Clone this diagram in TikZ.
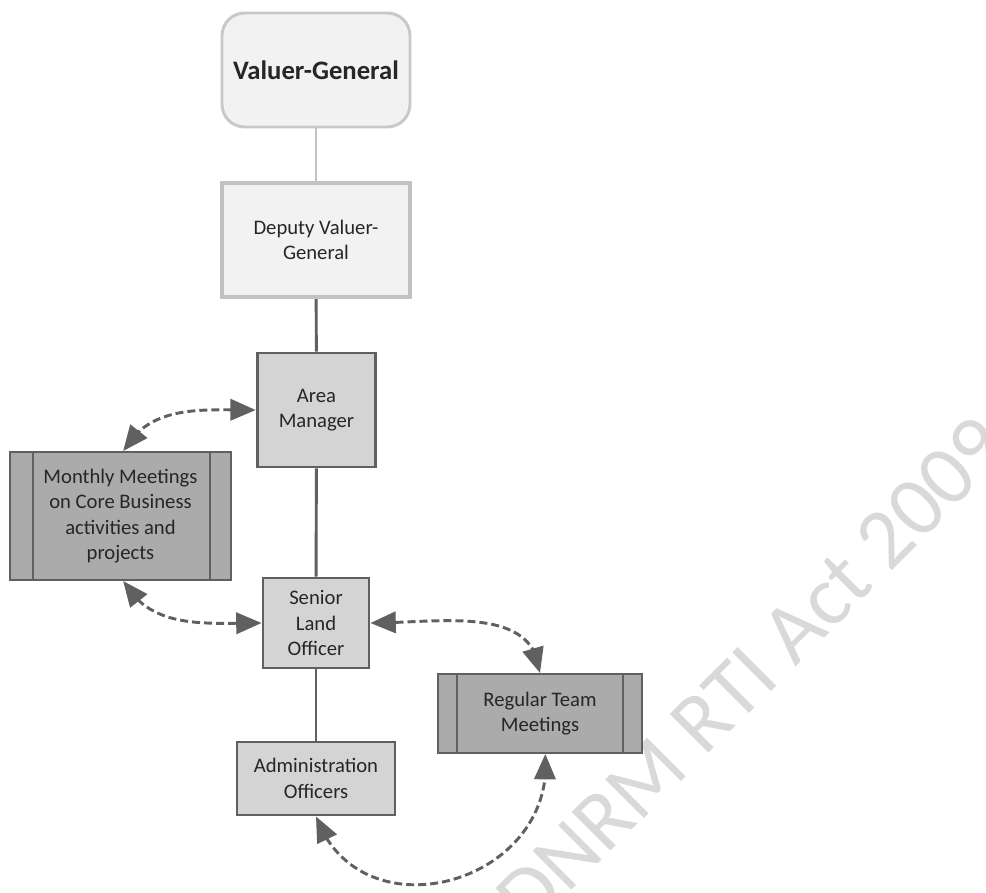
\documentclass[tikz,border=0pt]{standalone}
\usepackage{fontspec}
\setmainfont{Carlito}
\usetikzlibrary{arrows.meta,bending}
\definecolor{boxline}{HTML}{606060}
\definecolor{paleline}{HTML}{C2C2C2}
\definecolor{palefill}{HTML}{F2F2F2}
\definecolor{midfill}{HTML}{D4D4D4}
\definecolor{darkfill}{HTML}{ABABAB}
\definecolor{wmark}{HTML}{D9D9D9}
\definecolor{inktext}{HTML}{262626}
\tikzset{>={Triangle[length=19pt,width=16pt]},
  orgbox/.style={draw, align=center, inner sep=0pt, text=inktext,
    font=\fontsize{15.5}{19}\selectfont},
  palebox/.style={orgbox, fill=palefill, draw=paleline, line width=3pt},
  rolebox/.style={orgbox, fill=midfill, draw=boxline, line width=2.2pt},
  meetbox/.style={orgbox, fill=darkfill, draw=boxline, line width=1.5pt},
  link/.style={boxline, line width=2.2pt},
  dashlink/.style={<->, boxline, line width=2.2pt, dash pattern=on 6pt off 3pt}
}

\begin{document}
\begin{tikzpicture}[x=0.75pt, y=0.75pt]
    \useasboundingbox (0,0) rectangle (986,-893);
    \clip (0,0) rectangle (986,-893);
    % watermark
    \node[rotate=45, text=wmark, font=\fontsize{64}{68}\selectfont] (wm) at (752,-672) {DNRM RTI Act 2009};
    % boxes
    \node[palebox, draw=paleline!90, line width=2.2pt, rounded corners=17pt,
      minimum width=141pt, minimum height=85.5pt,
      font=\fontsize{20}{24}\bfseries] (vg) at (316,-70) {Valuer-General};
    \node[palebox, minimum width=141pt, minimum height=85.5pt] (dep) at (316,-240) {Deputy Valuer-\\General};
    \node[rolebox, minimum width=89pt, minimum height=85.5pt] (am) at (316.5,-410) {Area\\Manager};
    \node[meetbox, minimum width=165.75pt, minimum height=96pt] (mm) at (120.5,-516)
      {Monthly Meetings\\on Core Business\\activities and\\projects};
    \node[rolebox, minimum width=79.5pt, minimum height=67.5pt] (slo) at (316,-623) {Senior\\Land\\Officer};
    \node[rolebox, minimum width=118.5pt, minimum height=54.75pt] (adm) at (316,-778.5) {Administration\\Officers};
    \node[meetbox, minimum width=153pt, minimum height=59.25pt] (rtm) at (540,-713.5) {Regular Team\\Meetings};
    % side bars
    \draw[boxline, line width=1.5pt] ([xshift=18pt]mm.north west) -- ([xshift=18pt]mm.south west);
    \draw[boxline, line width=1.5pt] ([xshift=-16.5pt]mm.north east) -- ([xshift=-16.5pt]mm.south east);
    \draw[boxline, line width=1.5pt] ([xshift=15pt]rtm.north west) -- ([xshift=15pt]rtm.south west);
    \draw[boxline, line width=1.5pt] ([xshift=-15pt]rtm.north east) -- ([xshift=-15pt]rtm.south east);
    % reporting lines
    \draw[paleline, line width=2.2pt] (vg) -- (dep);
    \draw[link] (dep) -- (am);
    \draw[link] (am) -- (slo);
    \draw[link] (slo) -- (adm);
    % meetings
    \draw[dashlink] (am.west) to[out=180, in=60] ([xshift=2pt]mm.north);
    \draw[dashlink] ([xshift=2pt]mm.south) to[out=-60, in=180] (slo.west);
    \draw[dashlink] (slo.east) to[out=0, in=95] (rtm.north);
    \draw[dashlink] (adm.south) to[out=-70, in=-85, looseness=1.4] ([xshift=4pt]rtm.south);
\end{tikzpicture}
\end{document}
